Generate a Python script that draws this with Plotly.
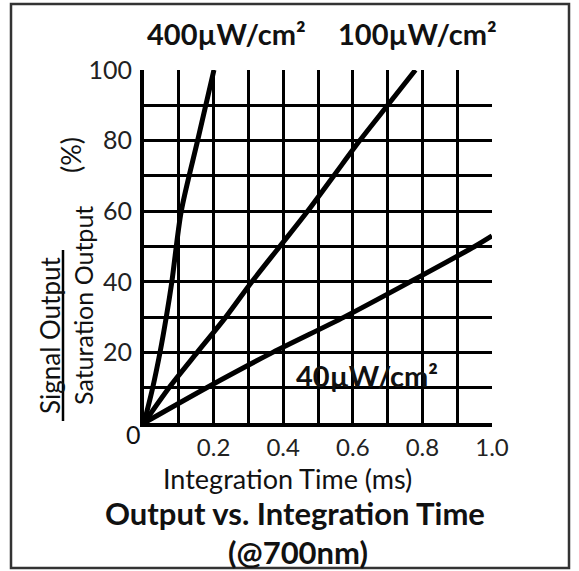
import plotly.graph_objects as go

# ---- data ----
t_400 = [0, 0.025, 0.046, 0.064, 0.08, 0.107, 0.154, 0.201]
out_400 = [0, 10, 20, 30, 40, 60, 80, 100]

t_100 = [0, 0.072, 0.153, 0.235, 0.31, 0.39, 0.47, 0.545, 0.62, 0.70, 0.78]
out_100 = [0, 10, 20, 30, 40, 50, 60, 70, 80, 90, 100]

t_40 = [0, 0.18, 0.37, 0.575, 0.765, 0.95, 1.0]
out_40 = [0, 10, 20, 30, 40, 50, 53]

x_tickvals = [0.1, 0.2, 0.3, 0.4, 0.5, 0.6, 0.7, 0.8, 0.9, 1.0]
x_ticktext = ["", "0.2", "", "0.4", "", "0.6", "", "0.8", "", "1.0"]
y_tickvals = [10, 20, 30, 40, 50, 60, 70, 80, 90, 100]
y_ticktext = ["", "20", "", "40", "", "60", "", "80", "", "100"]

W, H = 579, 571
L, R, T, B = 144, 492, 70, 423   # plot area in pixels


def px(x):
    return (x - L) / (R - L)


def py(y):
    return (B - y) / (B - T)


FONT = "Lato"
fig = go.Figure()
for xs, ys in [(t_400, out_400), (t_100, out_100), (t_40, out_40)]:
    fig.add_trace(go.Scatter(x=xs, y=ys, mode="lines",
                             line=dict(color="black", width=5,
                                       shape="spline", smoothing=0.8),
                             showlegend=False, hoverinfo="skip"))

fig.update_layout(
    width=W, height=H,
    margin=dict(l=L, r=W - R, t=T, b=H - B),
    paper_bgcolor="white", plot_bgcolor="white",
    font=dict(family=FONT, color="#1a1a1a"),
    xaxis=dict(range=[0, 1.0], tickvals=x_tickvals, ticktext=x_ticktext,
               showgrid=True, gridcolor="black", gridwidth=2.5,
               showline=True, linecolor="black", linewidth=4,
               zeroline=False, ticks="", ticklabelstandoff=0,
               tickfont=dict(size=24, family=FONT, color="#222")),
    yaxis=dict(range=[0, 100], tickvals=y_tickvals, ticktext=y_ticktext,
               showgrid=True, gridcolor="black", gridwidth=2.5,
               showline=True, linecolor="black", linewidth=4,
               zeroline=False, ticks="", ticklabelstandoff=3,
               tickfont=dict(size=25, family=FONT, color="#222")),
)

ann = []


def text(x, y, s, size, bold=False, angle=0, xref="paper", yref="paper"):
    ann.append(dict(x=x, y=y, xref=xref, yref=yref, text=s, showarrow=False,
                    xanchor="center", yanchor="middle", textangle=angle,
                    font=dict(size=size, family=FONT, color="#111",
                              weight="bold" if bold else "normal")))


text(px(226), py(34), "400µW/cm²", 29, bold=True)
text(px(417), py(34), "100µW/cm²", 29, bold=True)
text(0.64, 13.5, "40µW/cm²", 29, bold=True, xref="x", yref="y")
text(px(133), py(434), "0", 25)
text(px(287), py(479), "Integration Time (ms)", 27)
text(px(295), py(513), "Output vs. Integration Time", 31, bold=True)
text(px(298), py(552), "(@700nm)", 31, bold=True)
text(px(50), py(336), "Signal Output", 26, angle=-90)
text(px(83), py(306), "Saturation Output", 25, angle=-90)
text(px(70), py(155), "(%)", 27, angle=-90)
fig.update_layout(annotations=ann)

fig.add_shape(type="line", xref="paper", yref="paper",
              x0=px(63), x1=px(63), y0=py(250), y1=py(421),
              line=dict(color="black", width=2.5))
fig.add_shape(type="rect", xref="paper", yref="paper",
              x0=px(11), x1=px(569), y0=py(568), y1=py(4),
              line=dict(color="#333", width=2.5), layer="below")

fig.write_html("out.html", config={"displayModeBar": False},
               post_script="document.body.style.margin='0px';")
